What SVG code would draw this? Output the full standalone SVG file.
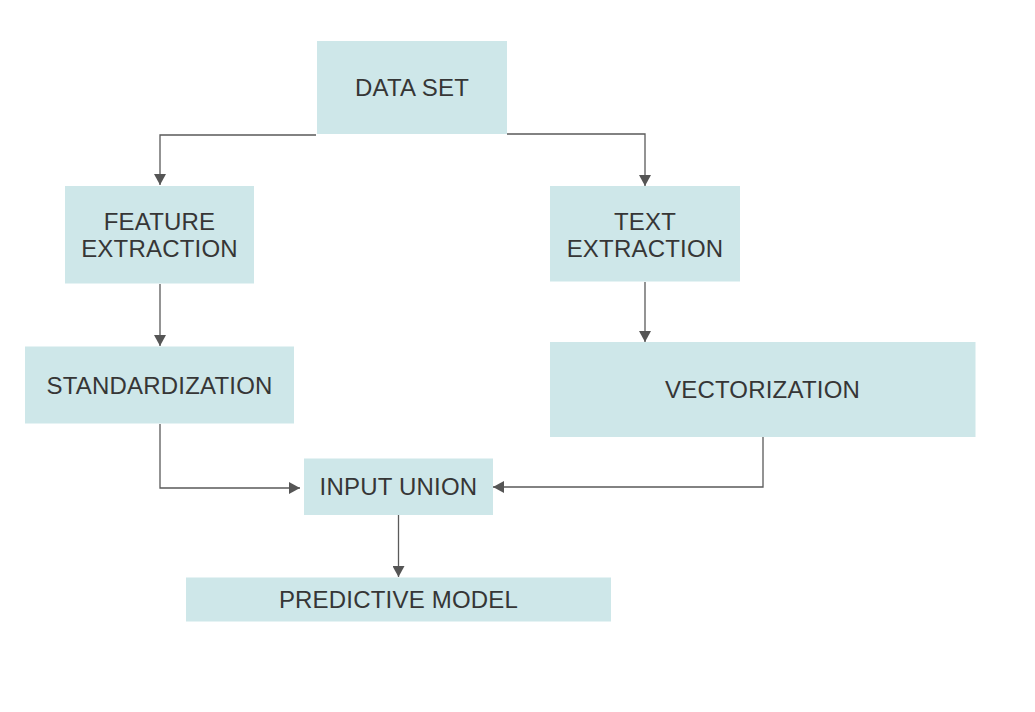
<svg xmlns="http://www.w3.org/2000/svg" width="1035" height="712" viewBox="0 0 1035 712">
<style>
.box{fill:#cee7e9;}
.lbl{font-family:"Liberation Sans",Arial,sans-serif;font-size:24px;letter-spacing:0.2px;fill:#363636;text-anchor:middle;}
.conn{fill:none;stroke:#5a5a5a;stroke-width:1.3;marker-end:url(#arr);}
</style>
<defs>
<marker id="arr" markerUnits="userSpaceOnUse" markerWidth="12" markerHeight="12" viewBox="0 0 11 12" refX="11" refY="6" orient="auto">
<path d="M0,0 L11,6 L0,12 Z" fill="#555555"/>
</marker>
</defs>
<rect width="1035" height="712" fill="#ffffff"/>
<g id="connectors">
<path class="conn" d="M316,135 H160 V185"/>
<path class="conn" d="M507,134 H645 V186"/>
<path class="conn" d="M160,284 V346"/>
<path class="conn" d="M645,282 V342"/>
<path class="conn" d="M160,424 V488 H300"/>
<path class="conn" d="M763,437 V487 H493"/>
<path class="conn" d="M398.5,515 V577"/>
</g>
<g id="data-set">
<rect class="box" x="317" y="41" width="190" height="93"/>
<text class="lbl" x="412" y="96">DATA SET</text>
</g>
<g id="feature-extraction">
<rect class="box" x="65" y="186" width="189" height="97.5"/>
<text class="lbl" x="159.5" y="230">FEATURE</text>
<text class="lbl" x="159.5" y="257">EXTRACTION</text>
</g>
<g id="text-extraction">
<rect class="box" x="550" y="186" width="190" height="95.5"/>
<text class="lbl" x="645" y="229.5">TEXT</text>
<text class="lbl" x="645" y="256.5">EXTRACTION</text>
</g>
<g id="standardization">
<rect class="box" x="25" y="346.5" width="269" height="77"/>
<text class="lbl" x="159.5" y="393.5">STANDARDIZATION</text>
</g>
<g id="vectorization">
<rect class="box" x="550" y="342" width="425.5" height="95"/>
<text class="lbl" x="762.5" y="398">VECTORIZATION</text>
</g>
<g id="input-union">
<rect class="box" x="304" y="458.5" width="189" height="56.5"/>
<text class="lbl" x="398.5" y="495">INPUT UNION</text>
</g>
<g id="predictive-model">
<rect class="box" x="186" y="577.5" width="425" height="44"/>
<text class="lbl" x="398.5" y="608">PREDICTIVE MODEL</text>
</g>
</svg>
